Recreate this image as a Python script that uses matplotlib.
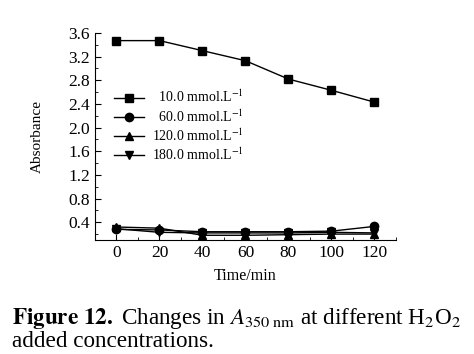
import numpy as np
import matplotlib
matplotlib.use('Agg')
import matplotlib.pyplot as plt
from matplotlib.ticker import MultipleLocator

plt.rcParams['font.family'] = ['Liberation Serif', 'DejaVu Serif']
plt.rcParams['mathtext.fontset'] = 'stix'

time_min = [0, 20, 40, 60, 80, 100, 120]
abs_10 = [3.47, 3.47, 3.30, 3.13, 2.82, 2.63, 2.43]
abs_60 = [0.28, 0.27, 0.24, 0.24, 0.24, 0.25, 0.33]
abs_120 = [0.32, 0.30, 0.18, 0.18, 0.19, 0.20, 0.20]
abs_180 = [0.29, 0.23, 0.22, 0.22, 0.22, 0.23, 0.22]
labels = ['  10.0 mmol.L$^{-1}$', '  60.0 mmol.L$^{-1}$',
          '120.0 mmol.L$^{-1}$', '180.0 mmol.L$^{-1}$']
markers = ['s', 'o', '^', 'v']

fig = plt.figure(figsize=(4.74, 3.54), dpi=100)
ax = fig.add_axes([0.2004, 0.322, 0.635, 0.585])

for yy, mk, lb in zip([abs_10, abs_60, abs_120, abs_180], markers, labels):
    ax.plot(time_min, yy, color='black', linewidth=1.0, marker=mk,
            markersize=6, label=lb)

ax.set_xlim(-10, 130)
ax.set_ylim(0.1, 3.6)
ax.xaxis.set_major_locator(MultipleLocator(20))
ax.xaxis.set_minor_locator(MultipleLocator(10))
ax.yaxis.set_minor_locator(MultipleLocator(0.2))
ax.set_yticks(np.arange(0.4, 3.61, 0.4))
ax.set_yticklabels(['%.1f' % v for v in np.arange(0.4, 3.61, 0.4)])
ax.tick_params(which='both', direction='in', labelsize=12.5)
ax.tick_params(which='major', length=4)
ax.tick_params(which='minor', length=2)
ax.spines['top'].set_visible(False)
ax.spines['right'].set_visible(False)
ax.set_xlabel('Time/min', fontsize=11.5, labelpad=5)
ax.set_ylabel('Absorbance', fontsize=11, labelpad=18)

ax.legend(loc='upper left', bbox_to_anchor=(0.02, 0.79), frameon=False,
          fontsize=10, handlelength=2.2, labelspacing=0.2, handletextpad=0.6)

fig.text(0.025, 0.10,
         r'$\mathbf{Figure\ 12.}$ Changes in $A_{350\ \mathrm{nm}}$ at different H$_2$O$_2$',
         fontsize=16.7, va='center')
fig.text(0.025, 0.035, 'added concentrations.', fontsize=16.7, va='center')

fig.savefig('out.png', dpi=100)
